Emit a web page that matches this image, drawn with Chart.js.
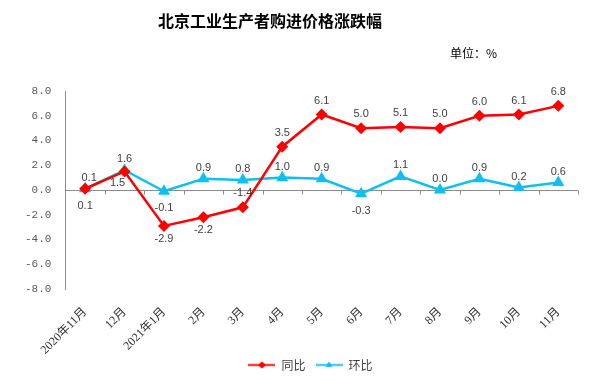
<!DOCTYPE html>
<html>
<head>
<meta charset="utf-8">
<script src="https://cdn.jsdelivr.net/npm/chart.js@4.4.0/dist/chart.umd.min.js"></script>
<style>
    html, body { margin: 0; padding: 0; background: #fff; }
    #wrap { width: 606px; height: 381px; }
</style>
</head>
<body>
<div id="wrap"><canvas id="chart" width="606" height="381"></canvas></div>
<script>
const categories = ['2020年11月', '12月', '2021年1月', '2月', '3月', '4月', '5月', '6月', '7月', '8月', '9月', '10月', '11月'];
const yoyValues = [0.1, 1.5, -2.9, -2.2, -1.4, 3.5, 6.1, 5.0, 5.1, 5.0, 6.0, 6.1, 6.8];
const momValues = [0.1, 1.6, -0.1, 0.9, 0.8, 1.0, 0.9, -0.3, 1.1, 0.0, 0.9, 0.2, 0.6];
// where each value label sits: a = above, b = below, bl = below left, ar = above right
const yoyLabelPlace = ['ar', 'bl', 'b', 'b', 'a', 'a', 'a', 'a', 'a', 'a', 'a', 'a', 'a'];
const momLabelPlace = ['b', 'a', 'b', 'a', 'a', 'a', 'a', 'b', 'a', 'a', 'a', 'a', 'a'];

const RED = '#ff0000';
const BLUE = '#10bff0';
const FONT_CJK = '"Noto Sans CJK SC"';

function legendIcon(color, style, radius) {
    const c = document.createElement('canvas');
    c.width = 27;
    c.height = 10;
    const ctx = c.getContext('2d');
    ctx.strokeStyle = color;
    ctx.globalAlpha = 0.75;
    ctx.lineWidth = 2.5;
    ctx.beginPath();
    ctx.moveTo(0, 5);
    ctx.lineTo(27, 5);
    ctx.stroke();
    ctx.globalAlpha = 1;
    ctx.fillStyle = color;
    Chart.helpers.drawPoint(ctx, { pointStyle: style, radius: radius, borderWidth: 0 }, 13.5, 5);
    ctx.fill();
    return c;
}

// zero line with tick marks between the months
const zeroAxis = {
    id: 'zeroAxis',
    afterLayout(chart) {
        // let the long rotated month labels run past the axis box
        chart.scales.x.bottom = chart.height;
        // legend sits a bit right of the middle
        chart.legend.left += 32;
    },
    beforeDatasetsDraw(chart) {
        const { ctx, chartArea, scales } = chart;
        const y0 = Math.round(scales.y.getPixelForValue(0)) + 0.5;
        const bw = scales.x.getPixelForValue(1) - scales.x.getPixelForValue(0);
        ctx.save();
        ctx.strokeStyle = '#8c8c8c';
        ctx.lineWidth = 1;
        ctx.beginPath();
        ctx.moveTo(chartArea.left, y0);
        ctx.lineTo(chartArea.right, y0);
        for (let i = 1; i <= categories.length; i++) {
            const x = Math.round(scales.x.getPixelForValue(i) - bw / 2) + 0.5;
            ctx.moveTo(x, y0);
            ctx.lineTo(x, y0 + 4);
        }
        ctx.stroke();
        ctx.restore();
    }
};

const valueLabels = {
    id: 'valueLabels',
    afterDatasetsDraw(chart) {
        const ctx = chart.ctx;
        ctx.save();
        ctx.font = '11px "Liberation Sans"';
        ctx.fillStyle = '#404040';
        ctx.textAlign = 'center';
        ctx.textBaseline = 'middle';
        chart.data.datasets.forEach((ds, di) => {
            const meta = chart.getDatasetMeta(di);
            meta.data.forEach((pt, i) => {
                const place = ds.labelPlace[i];
                let dx = 0, dy = 0;
                if (place === 'a') dy = -ds.labelUp;
                if (place === 'b') dy = ds.labelDown;
                if (place === 'bl') { dx = -7; dy = 12; }
                if (place === 'ar') { dx = 4; dy = -11; }
                ctx.fillText(ds.data[i].toFixed(1), pt.x + dx, pt.y + dy);
            });
        });
        ctx.restore();
    }
};

const headings = {
    id: 'headings',
    afterDraw(chart) {
        const ctx = chart.ctx;
        ctx.save();
        ctx.fillStyle = '#000';
        ctx.textBaseline = 'middle';
        ctx.textAlign = 'center';
        ctx.font = 'bold 16px ' + FONT_CJK;
        ctx.fillText('北京工业生产者购进价格涨跌幅', 270, 21);
        ctx.textAlign = 'left';
        ctx.font = '12px ' + FONT_CJK;
        ctx.fillText('单位：%', 450, 53);
        ctx.restore();
    }
};

new Chart(document.getElementById('chart'), {
    type: 'line',
    data: {
        labels: categories,
        datasets: [
            {
                label: '同比',
                data: yoyValues,
                labelPlace: yoyLabelPlace,
                labelUp: 14,
                labelDown: 13,
                borderColor: RED,
                backgroundColor: RED,
                borderWidth: 2.5,
                pointStyle: 'rectRot',
                pointRadius: 6,
                pointBorderWidth: 0,
                tension: 0
            },
            {
                label: '环比',
                data: momValues,
                labelPlace: momLabelPlace,
                labelUp: 11,
                labelDown: 17,
                borderColor: BLUE,
                backgroundColor: BLUE,
                borderWidth: 2.5,
                pointStyle: 'triangle',
                pointRadius: 7,
                pointBorderWidth: 0,
                tension: 0
            }
        ]
    },
    options: {
        responsive: false,
        animation: false,
        layout: {
            padding: { top: 91, left: 11, right: 28, bottom: 0 }
        },
        scales: {
            x: {
                offset: true,
                grid: { display: false },
                border: { display: false },
                afterFit(scale) {
                    scale.height = 60;
                },
                ticks: {
                    maxRotation: 45,
                    minRotation: 45,
                    padding: 8,
                    color: '#333',
                    font: { family: '"Liberation Serif", ' + FONT_CJK, size: 12 }
                }
            },
            y: {
                min: -8,
                max: 8,
                grid: { display: false, drawTicks: false },
                border: { display: true, color: '#8c8c8c', width: 1 },
                ticks: {
                    stepSize: 2,
                    padding: 14,
                    color: '#595959',
                    font: { family: '"Liberation Mono"', size: 11 },
                    callback: (v) => Number(v).toFixed(1)
                }
            }
        },
        plugins: {
            legend: {
                position: 'bottom',
                labels: {
                    usePointStyle: true,
                    pointStyleWidth: 27,
                    padding: 10,
                    color: '#404040',
                    font: { family: FONT_CJK, size: 12 },
                    generateLabels(chart) {
                        return chart.data.datasets.map((ds, i) => ({
                            text: ds.label,
                            datasetIndex: i,
                            fontColor: '#404040',
                            lineWidth: 0,
                            strokeStyle: 'transparent',
                            fillStyle: ds.borderColor,
                            pointStyle: legendIcon(ds.borderColor, ds.pointStyle, 3.5)
                        }));
                    }
                }
            },
            tooltip: { enabled: false }
        }
    },
    plugins: [zeroAxis, valueLabels, headings]
});
</script>
</body>
</html>
